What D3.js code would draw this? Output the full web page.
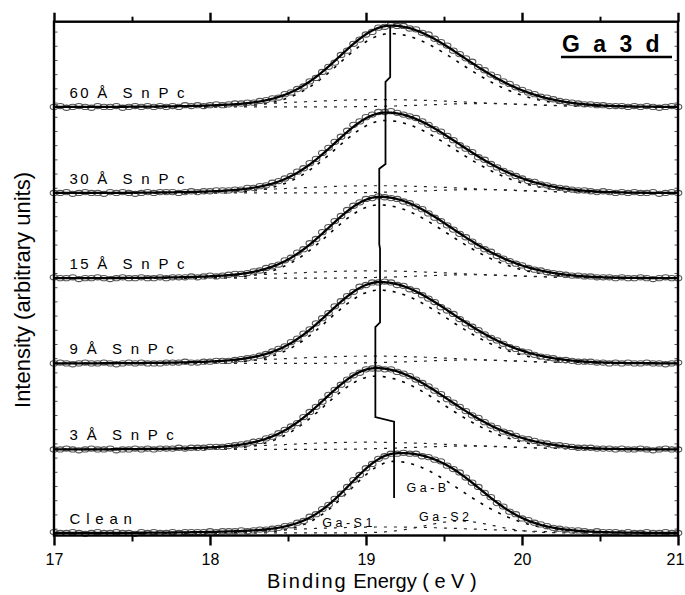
<!DOCTYPE html>
<html>
<head>
<meta charset="utf-8">
<script src="https://cdn.jsdelivr.net/npm/d3@7"></script>
<style>
  body { margin: 0; background: #fff; }
  text { font-family: "Liberation Sans", Arial, sans-serif; fill: #000; }
</style>
</head>
<body>
<div id="chart"></div>
<script>
// measured Ga 3d spectra, 17.00 .. 21.00 eV in 0.04 eV steps (101 points each)
const energyStart = 17;
const energyStep = 0.04;

const counts60 = [0.00, 0.01, -0.01, 0.00, 0.01, 0.00, -0.01, 0.01, 0.00, 0.00, 0.01, -0.01, 0.00, 0.01, 0.00, 0.01, 0.00, 0.01, 0.00,
  0.01, 0.00, 0.02, 0.01, 0.02, 0.01, 0.02, 0.03, 0.02, 0.03, 0.04,
  0.04, 0.05, 0.05, 0.07, 0.08, 0.10, 0.11, 0.15, 0.17, 0.21,
  0.24, 0.30, 0.34, 0.41, 0.47, 0.52, 0.61, 0.66, 0.74, 0.79,
  0.85, 0.88, 0.93, 0.94, 0.96, 0.95, 0.95, 0.92, 0.91, 0.87,
  0.85, 0.80, 0.76, 0.72, 0.66, 0.62, 0.57, 0.53, 0.47, 0.43,
  0.38, 0.35, 0.30, 0.27, 0.23, 0.20, 0.17, 0.15, 0.12, 0.11,
  0.09, 0.07, 0.06, 0.05, 0.04, 0.03, 0.03, 0.02, 0.02, 0.01,
  0.01, 0.01, 0.00, 0.01, 0.00, 0.01, 0.00, -0.01, 0.00, 0.01, 0.00];

const counts30 = [0.00, 0.00, 0.01, -0.01, 0.00, 0.01, 0.00, 0.00, -0.01, 0.01, 0.00, 0.01, 0.00, -0.01, 0.00, 0.01, 0.00, 0.01,
  0.01, 0.01, 0.00, 0.01, 0.02, 0.01, 0.02, 0.02, 0.03, 0.03, 0.03,
  0.04, 0.04, 0.06, 0.06, 0.08, 0.09, 0.12, 0.14, 0.17, 0.20,
  0.25, 0.29, 0.35, 0.40, 0.47, 0.53, 0.60, 0.66, 0.73, 0.80,
  0.84, 0.89, 0.92, 0.95, 0.95, 0.96, 0.94, 0.92, 0.90, 0.88,
  0.84, 0.80, 0.75, 0.72, 0.67, 0.62, 0.56, 0.52, 0.48, 0.42,
  0.39, 0.34, 0.30, 0.26, 0.23, 0.20, 0.17, 0.14, 0.13, 0.10,
  0.09, 0.07, 0.06, 0.05, 0.04, 0.03, 0.03, 0.02, 0.01, 0.02,
  0.01, 0.00, 0.01, 0.00, 0.01, 0.00, 0.00, 0.01, -0.01, 0.00, 0.01, 0.00];

const counts15 = [0.01, 0.00, 0.00, 0.01, -0.01, 0.00, 0.00, 0.01, 0.00, -0.01, 0.00, 0.01, 0.00, 0.00, 0.01, 0.00, 0.00,
  0.01, 0.00, 0.01, 0.01, 0.01, 0.02, 0.01, 0.02, 0.03, 0.02, 0.03,
  0.04, 0.05, 0.05, 0.06, 0.08, 0.09, 0.12, 0.14, 0.16, 0.21,
  0.24, 0.30, 0.34, 0.41, 0.46, 0.54, 0.60, 0.67, 0.73, 0.80,
  0.85, 0.89, 0.93, 0.94, 0.96, 0.95, 0.94, 0.93, 0.90, 0.88,
  0.84, 0.81, 0.76, 0.71, 0.67, 0.62, 0.57, 0.52, 0.48, 0.43,
  0.38, 0.34, 0.31, 0.26, 0.23, 0.20, 0.17, 0.15, 0.12, 0.10,
  0.09, 0.07, 0.06, 0.05, 0.04, 0.03, 0.03, 0.02, 0.02, 0.01,
  0.01, 0.01, 0.00, 0.01, 0.00, 0.00, 0.01, 0.00, -0.01, 0.00, 0.01, 0.00, 0.00];

const counts9 = [0.00, 0.01, 0.00, -0.01, 0.00, 0.01, 0.00, 0.00, 0.01, 0.00, -0.01, 0.00, 0.01, 0.00, 0.01, 0.00, 0.00,
  0.00, 0.01, 0.01, 0.01, 0.02, 0.01, 0.01, 0.02, 0.02, 0.03, 0.03,
  0.03, 0.04, 0.05, 0.06, 0.07, 0.09, 0.11, 0.14, 0.17, 0.20,
  0.25, 0.29, 0.35, 0.40, 0.47, 0.53, 0.59, 0.67, 0.73, 0.79,
  0.84, 0.90, 0.92, 0.95, 0.95, 0.96, 0.95, 0.92, 0.91, 0.87,
  0.85, 0.80, 0.76, 0.72, 0.66, 0.62, 0.58, 0.52, 0.47, 0.43,
  0.39, 0.34, 0.30, 0.27, 0.23, 0.19, 0.17, 0.14, 0.13, 0.10,
  0.08, 0.07, 0.06, 0.04, 0.04, 0.03, 0.02, 0.02, 0.02, 0.01,
  0.01, 0.00, 0.01, 0.00, 0.01, 0.00, 0.00, 0.01, 0.00, 0.00, -0.01, 0.00, 0.01];

const counts3 = [0.00, 0.00, 0.01, 0.00, -0.01, 0.00, 0.01, 0.00, 0.00, 0.01, -0.01, 0.00, 0.00, 0.01, 0.00, 0.01, 0.00,
  0.01, 0.01, 0.01, 0.02, 0.01, 0.02, 0.02, 0.02, 0.03, 0.03,
  0.03, 0.04, 0.05, 0.06, 0.07, 0.09, 0.10, 0.13, 0.15, 0.19,
  0.23, 0.27, 0.31, 0.38, 0.44, 0.50, 0.56, 0.64, 0.70, 0.76,
  0.82, 0.87, 0.90, 0.94, 0.95, 0.95, 0.94, 0.94, 0.91, 0.89,
  0.86, 0.82, 0.78, 0.74, 0.69, 0.65, 0.59, 0.55, 0.50, 0.45,
  0.40, 0.37, 0.32, 0.28, 0.25, 0.21, 0.19, 0.16, 0.13, 0.12,
  0.10, 0.08, 0.07, 0.05, 0.05, 0.04, 0.03, 0.02, 0.02, 0.02,
  0.01, 0.01, 0.01, 0.00, 0.01, 0.00, 0.00, 0.01, 0.00, -0.01, 0.00, 0.01, 0.00, 0.00];

const countsClean = [0.01, 0.00, 0.00, 0.01, 0.00, -0.01, 0.00, 0.01, 0.00, 0.00, 0.01, 0.00, 0.00, -0.01, 0.01, 0.00, 0.01, 0.00, 0.00,
  0.01, 0.00, 0.01, 0.01, 0.01, 0.01, 0.02, 0.01, 0.02, 0.02,
  0.02, 0.03, 0.02, 0.03, 0.04, 0.04, 0.05, 0.06, 0.08, 0.09,
  0.12, 0.14, 0.19, 0.22, 0.28, 0.33, 0.40, 0.46, 0.54, 0.62,
  0.68, 0.76, 0.81, 0.87, 0.90, 0.93, 0.93, 0.94, 0.93, 0.93,
  0.90, 0.89, 0.86, 0.84, 0.79, 0.75, 0.71, 0.65, 0.59, 0.54,
  0.47, 0.42, 0.35, 0.31, 0.25, 0.22, 0.17, 0.15, 0.12, 0.10,
  0.08, 0.06, 0.05, 0.04, 0.03, 0.03, 0.02, 0.01, 0.02, 0.01,
  0.01, 0.01, 0.00, 0.01, 0.00, 0.00, 0.01, 0.00, 0.00, 0.01, 0.00, 0.00];

// top to bottom
const spectra = [counts60, counts30, counts15, counts9, counts3, countsClean];
const sampleLabels = ["60 Å  S n P c", "30 Å  S n P c", "15 Å  S n P c", "9 Å  S n P c", "3 Å  S n P c", "C l e a n"];
const offsets = [5.0, 3.99, 2.99, 1.99, 0.98, 0];

// fitted components (Ga-B bulk, Ga-S1 and Ga-S2 surface)
const gaBCenter = [19.155, 19.125, 19.085, 19.085, 19.06, 19.18];
const gaBHeight = [0.86, 0.85, 0.86, 0.86, 0.86, 0.84];
const gaBSigmaLeft = [0.32, 0.32, 0.32, 0.32, 0.32, 0.28];
const gaBSigmaRight = [0.44, 0.44, 0.44, 0.44, 0.44, 0.42];
const s1Center = [19.105, 19.075, 19.035, 19.035, 19.01, 19.13];
const s1Height = [0.085, 0.085, 0.085, 0.085, 0.085, 0.07];
const s1Sigma = [0.6, 0.6, 0.6, 0.6, 0.6, 0.6];
const s2Center = [19.755, 19.725, 19.685, 19.685, 19.66, 19.60];
const s2Height = [0.04, 0.04, 0.04, 0.04, 0.04, 0.14];
const s2Sigma = [0.35, 0.35, 0.35, 0.35, 0.35, 0.22];
const componentLabels = ["G a - B", "G a - S 1", "G a - S 2"];

// peak position guide line
const guideEnergy = [19.155, 19.125, 19.085, 19.09, 19.06, 19.18];
const guideEnd = [0.35, 0.34, 0.40, 0.48, 0.38, 0.41];
const guideTop = 0.955;
const guideStep = 0.055;

const xTicks = [17, 18, 19, 20, 21];
const xMinorTicks = [17.5, 18.5, 19.5, 20.5];

const width = 685;
const height = 595;

const svg = d3.select("#chart").append("svg")
  .attr("width", width)
  .attr("height", height);

const x = d3.scaleLinear().domain([17, 21]).range([54, 678]);
const y = d3.scaleLinear().domain([-0.03, 6.0]).range([535.5, 21.7]);

function halfGauss(e, c, h, sl, sr) {
  const s = e < c ? sl : sr;
  return h * Math.exp(-((e - c) * (e - c)) / (2 * s * s));
}

const fine = d3.range(17, 21.0001, 0.005);

// y minor ticks (left and right, inward)
const yMinor = d3.range(0.045, 5.99, 1 / 6);
svg.append("g").selectAll("line").data(yMinor).enter().append("line")
  .attr("x1", x(17) + 1).attr("x2", x(17) + 3.5)
  .attr("y1", d => y(d)).attr("y2", d => y(d))
  .attr("stroke", "#555").attr("stroke-width", 1);
svg.append("g").selectAll("line").data(yMinor).enter().append("line")
  .attr("x1", x(21) - 1).attr("x2", x(21) - 3.5)
  .attr("y1", d => y(d)).attr("y2", d => y(d))
  .attr("stroke", "#555").attr("stroke-width", 1);

spectra.forEach((counts, i) => {
  const off = offsets[i];
  const g = svg.append("g");

  const comps = [
    e => halfGauss(e, gaBCenter[i], gaBHeight[i], gaBSigmaLeft[i], gaBSigmaRight[i]),
    e => halfGauss(e, s1Center[i], s1Height[i], s1Sigma[i], s1Sigma[i]),
    e => halfGauss(e, s2Center[i], s2Height[i], s2Sigma[i], s2Sigma[i])
  ];

  // components (dashed)
  comps.forEach((f, j) => {
    g.append("path")
      .datum(fine)
      .attr("d", d3.line().x(e => x(e)).y(e => y(off + f(e))))
      .attr("fill", "none")
      .attr("stroke", j === 0 ? "#000" : "#222")
      .attr("stroke-width", j === 0 ? 1.6 : 1.2)
      .attr("stroke-dasharray", "3,7");
  });

  // measured points
  g.selectAll("ellipse")
    .data(counts)
    .enter()
    .append("ellipse")
    .attr("cx", (d, k) => x(energyStart + k * energyStep))
    .attr("cy", d => y(off + d))
    .attr("rx", 3.8)
    .attr("ry", 2.6)
    .attr("fill", "none")
    .attr("stroke", "#555")
    .attr("stroke-width", 1.1);

  // envelope fit
  g.append("path")
    .datum(fine)
    .attr("d", d3.line().x(e => x(e)).y(e => y(off + comps[0](e) + comps[1](e) + comps[2](e))))
    .attr("fill", "none")
    .attr("stroke", "#000")
    .attr("stroke-width", 2.3);

  g.append("text")
    .attr("x", x(17.1))
    .attr("y", y(off + 0.11))
    .attr("font-size", 15)
    .attr("letter-spacing", i === 5 ? 0.8 : 2.3)
    .style("white-space", "pre")
    .text(sampleLabels[i]);
});

// guide line through the peak maxima
const guidePts = [[guideEnergy[0], offsets[0] + guideTop]];
guideEnergy.forEach((e, i) => {
  guidePts.push([e, offsets[i] + guideEnd[i]]);
  if (i < guideEnergy.length - 1) guidePts.push([guideEnergy[i + 1], offsets[i] + guideEnd[i] - guideStep]);
});
svg.append("path")
  .datum(guidePts)
  .attr("d", d3.line().x(d => x(d[0])).y(d => y(d[1])))
  .attr("fill", "none")
  .attr("stroke", "#000")
  .attr("stroke-width", 1.8);

// component labels on the clean spectrum
const cl = svg.append("g").attr("font-size", 12.5);
cl.append("text").attr("x", x(19.26)).attr("y", y(0.484)).style("white-space", "pre").text(componentLabels[0]);
cl.append("text").attr("x", x(18.72)).attr("y", y(0.07)).style("white-space", "pre").text(componentLabels[1]);
cl.append("text").attr("x", x(19.34)).attr("y", y(0.144)).style("white-space", "pre").text(componentLabels[2]);

// axes
const axisY = y(-0.03);
const topY = y(6.0);

svg.append("g")
  .attr("transform", `translate(0,${axisY})`)
  .call(d3.axisBottom(x).tickValues(xTicks).tickSize(10).tickPadding(8).tickFormat(d3.format("d")))
  .call(g => g.select(".domain").remove())
  .call(g => g.selectAll("line").attr("stroke-width", 2.4))
  .call(g => g.selectAll("text").attr("font-size", 16))
  .call(g => g.selectAll("text").filter(d => d === 21).attr("dx", -3));

svg.append("g")
  .attr("transform", `translate(0,${axisY})`)
  .call(d3.axisBottom(x).tickValues(xMinorTicks).tickSize(6).tickFormat(""))
  .call(g => g.select(".domain").remove())
  .call(g => g.selectAll("line").attr("stroke-width", 2));

svg.append("g")
  .attr("transform", `translate(0,${topY})`)
  .call(d3.axisTop(x).tickValues(xTicks).tickSize(9).tickFormat(""))
  .call(g => g.select(".domain").remove())
  .call(g => g.selectAll("line").attr("stroke-width", 2.4));

svg.append("g")
  .attr("transform", `translate(0,${topY})`)
  .call(d3.axisTop(x).tickValues(xMinorTicks).tickSize(5).tickFormat(""))
  .call(g => g.select(".domain").remove())
  .call(g => g.selectAll("line").attr("stroke-width", 2));

svg.append("rect")
  .attr("x", x(17))
  .attr("y", topY)
  .attr("width", x(21) - x(17))
  .attr("height", axisY - topY)
  .attr("fill", "none")
  .attr("stroke", "#000")
  .attr("stroke-width", 2.4);

// axis titles
const xt = svg.append("text")
  .attr("x", 267)
  .attr("y", 588)
  .attr("font-size", 20)
  .style("white-space", "pre");
xt.append("tspan").attr("letter-spacing", 2).text("Binding");
xt.append("tspan").text(" Energy ( e V )");

svg.append("text")
  .attr("transform", "translate(30,290) rotate(-90)")
  .attr("text-anchor", "middle")
  .attr("font-size", 22)
  .text("Intensity (arbitrary units)");

// panel title
svg.append("text")
  .attr("x", x(20.256))
  .attr("y", 51.7)
  .attr("font-size", 23)
  .attr("font-weight", "bold")
  .attr("letter-spacing", 3.5)
  .style("white-space", "pre")
  .text("G a 3 d");

svg.append("line")
  .attr("x1", x(20.256) - 1)
  .attr("x2", x(21) - 6)
  .attr("y1", 57)
  .attr("y2", 57)
  .attr("stroke", "#000")
  .attr("stroke-width", 2.5);
</script>
</body>
</html>
